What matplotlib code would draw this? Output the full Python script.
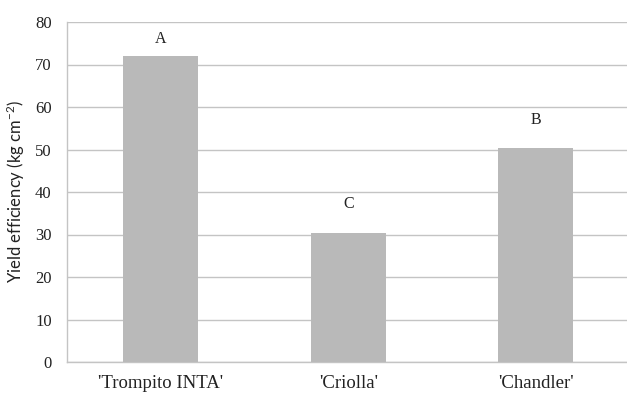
import matplotlib
matplotlib.use("Agg")
import matplotlib.pyplot as plt

plt.rcParams["mathtext.fontset"] = "custom"
plt.rcParams["mathtext.rm"] = "Lato"
plt.rcParams["mathtext.it"] = "Lato:italic"
plt.rcParams["mathtext.bf"] = "Lato:bold"

categories = ["'Trompito INTA'", "'Criolla'", "'Chandler'"]
values = [72.0, 30.4, 50.4]
letters = ["A", "C", "B"]
letter_y = [76.0, 37.2, 57.0]
yticks = [0, 10, 20, 30, 40, 50, 60, 70, 80]

fig = plt.figure(figsize=(6.27, 3.94), dpi=100)
W, H = 627, 394
left, right, top, bottom = 67, 629.5, 22, 362
ax = fig.add_axes([left / W, 1 - bottom / H, (right - left) / W, (bottom - top) / H])

x = list(range(len(categories)))
ax.bar(x, values, width=0.4, color="#b9b9b9", zorder=3)
for xi, l, ly in zip(x, letters, letter_y):
    ax.text(xi, ly, l, ha="center", va="center", fontsize=11.5,
            family="Liberation Serif", color="#222222")

ax.set_xlim(-0.5, 2.5)
ax.set_ylim(0, 80)
ax.set_yticks(yticks)
ax.set_xticks(x)
ax.set_xticklabels(categories, family="Liberation Serif", fontsize=13.5)
for lab in ax.get_yticklabels():
    lab.set_family("Liberation Serif")
    lab.set_fontsize(12)
ax.tick_params(axis="both", length=0, colors="#222222")
ax.tick_params(axis="y", pad=11)
ax.tick_params(axis="x", pad=9)
ax.yaxis.grid(True, color="#c4c4c4", linewidth=1.0, zorder=0)
ax.set_axisbelow(True)
for s in ["top", "right"]:
    ax.spines[s].set_visible(False)
for s in ["left", "bottom"]:
    ax.spines[s].set_color("#c4c4c4")
    ax.spines[s].set_linewidth(1.0)

ax.set_ylabel("Yield efficiency (kg cm$^{-2}$)", family="Lato", fontsize=12,
              color="#222222")
ax.yaxis.set_label_coords(-(67 - 27) / (right - left), 0.5)

fig.savefig("out.png", dpi=100)
